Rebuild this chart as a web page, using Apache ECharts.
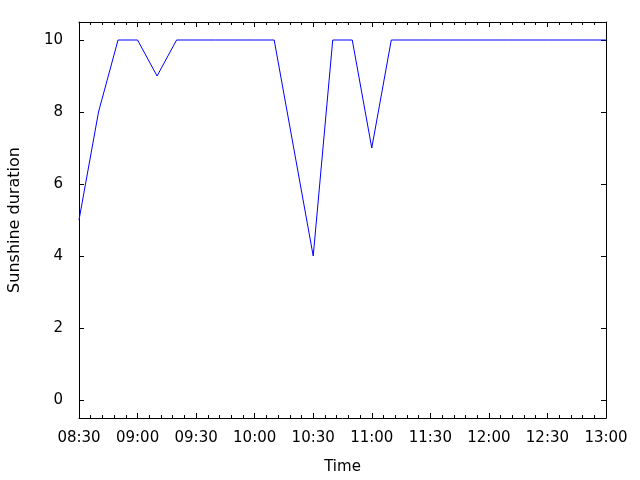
<!DOCTYPE html>
<html>
<head>
<meta charset="utf-8">
<script src="https://cdn.jsdelivr.net/npm/echarts@6/dist/echarts.min.js"></script>
<style>html,body{margin:0;padding:0;background:#fff}#c{width:640px;height:480px}</style>
</head>
<body>
<div id="c"></div>
<script>
var times = ["08:30","08:40","08:50","09:00","09:10","09:20","09:30","09:40","09:50","10:00",
             "10:10","10:20","10:30","10:40","10:50","11:00","11:10","11:20","11:30","11:40",
             "11:50","12:00","12:10","12:20","12:30","12:40","12:50","13:00"];
var sunshine = [5,8,10,10,9,10,10,10,10,10,
                10,7,4,10,10,7,10,10,10,10,
                10,10,10,10,10,10,10,10];
var yTicks = [0,2,4,6,8,10];

function toMin(t){var p=t.split(':');return (+p[0])*60+(+p[1]);}
var start = toMin("08:30"), end = toMin("13:00");
function fmt(v){var m=Math.round(v);var h=Math.floor(m/60),mm=m%60;return (h<10?'0':'')+h+':'+(mm<10?'0':'')+mm;}
var data = times.map(function(t,i){return [toMin(t), sunshine[i]];});

var font = 'DejaVu Sans';
var chart = echarts.init(document.getElementById('c'), null, {renderer:'canvas'});
function xAx(pos, extra){
  return Object.assign({
    type:'value', min:start, max:end, interval:30, position:pos,
    axisLine:{show:true, onZero:false, lineStyle:{color:'#000', width:1}},
    axisTick:{show:true, inside:true, length:5, lineStyle:{color:'#000', width:1}},
    minorTick:{show:true, splitNumber:5, length:3, lineStyle:{color:'#000', width:1}},
    splitLine:{show:false}, minorSplitLine:{show:false}
  }, extra);
}
function yAx(pos, extra){
  return Object.assign({
    type:'value', min:-0.5, max:10.5, position:pos,
    axisLine:{show:true, onZero:false, lineStyle:{color:'#000', width:1}},
    axisTick:{show:true, inside:true, length:5, customValues:yTicks, lineStyle:{color:'#000', width:1}},
    splitLine:{show:false}
  }, extra);
}
chart.setOption({
  animation:false,
  backgroundColor:'#fff',
  grid:{left:79, right:34, top:22, bottom:62, containLabel:false, outerBoundsMode:'none'},
  xAxis:[
    xAx('bottom', {
      name:'Time', nameLocation:'middle', nameGap:42,
      nameTextStyle:{fontFamily:font, fontSize:15, color:'#000'},
      axisLabel:{show:true, margin:13, formatter:fmt, fontFamily:font, fontSize:15, color:'#000'}}),
    xAx('top', {axisLabel:{show:true, formatter:fmt, fontFamily:font, fontSize:15, color:'rgba(0,0,0,0)'}})
  ],
  yAxis:[
    yAx('left', {
      name:'Sunshine duration', nameLocation:'middle', nameGap:56, nameRotate:90,
      nameTextStyle:{fontFamily:font, fontSize:16, color:'#000'},
      axisLabel:{show:true, margin:16, customValues:yTicks, fontFamily:font, fontSize:15, color:'#000'}}),
    yAx('right', {axisLabel:{show:false, customValues:yTicks}})
  ],
  series:[{
    type:'line', data:data, xAxisIndex:0, yAxisIndex:0,
    showSymbol:false, symbol:'none',
    lineStyle:{color:'#0000ff', width:1}
  },{
    type:'line', data:[], xAxisIndex:1, yAxisIndex:1, showSymbol:false, silent:true
  }]
});
</script>
</body>
</html>
